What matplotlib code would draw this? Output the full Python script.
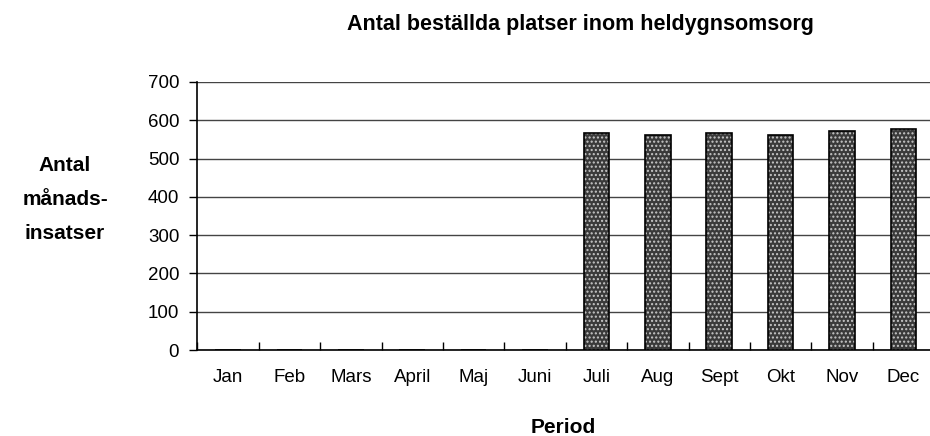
import numpy as np
import matplotlib.pyplot as plt

plt.rcParams['font.family'] = ['Liberation Sans', 'DejaVu Sans']

months = ['Jan', 'Feb', 'Mars', 'April', 'Maj', 'Juni', 'Juli', 'Aug', 'Sept', 'Okt', 'Nov', 'Dec']
platser = [0, 0, 0, 0, 0, 0, 566, 561, 566, 561, 571, 576]

fig = plt.figure(figsize=[9.3, 4.36], dpi=100)
ax = fig.add_axes([197.3 / 930, 86 / 436, 12 * 61.4 / 930, 268 / 436])

x = np.arange(len(months))
# dotted fill first, then black outline on top
ax.bar(x, platser, width=0.42, color='#3a3a3a', hatch='....', edgecolor='#c8c8c8', linewidth=0, zorder=3)
ax.bar(x, platser, width=0.42, fill=False, edgecolor='black', linewidth=1.2, zorder=4)

ax.set_xlim(-0.5, 11.5)
ax.set_ylim(0, 700)
ax.set_yticks(range(0, 701, 100))
ax.yaxis.grid(True, color='#444444', linewidth=1)
ax.set_axisbelow(True)

ax.set_xticks(x)
ax.set_xticklabels(months)
ax.set_xticks(np.arange(-0.5, 12, 1), minor=True)
ax.tick_params(axis='x', which='major', length=0, pad=14, labelsize=13.5)
ax.tick_params(axis='x', which='minor', length=6, direction='in', width=1)
ax.tick_params(axis='y', length=6, width=1, labelsize=13.5, pad=7)

for s in ['top', 'right']:
    ax.spines[s].set_visible(False)
for s in ['left', 'bottom']:
    ax.spines[s].set_linewidth(1.2)

fig.text(580 / 930, 1 - 30 / 436, 'Antal beställda platser inom heldygnsomsorg',
         ha='center', va='baseline', fontsize=15.5, fontweight='bold')
fig.text(65 / 930, 1 - 199 / 436, 'Antal\nmånads-\ninsatser', ha='center', va='center',
         fontsize=15, fontweight='bold', linespacing=2.0)
fig.text(563 / 930, 1 - 433 / 436, 'Period', ha='center', va='baseline', fontsize=15, fontweight='bold')

fig.savefig('out.png')
